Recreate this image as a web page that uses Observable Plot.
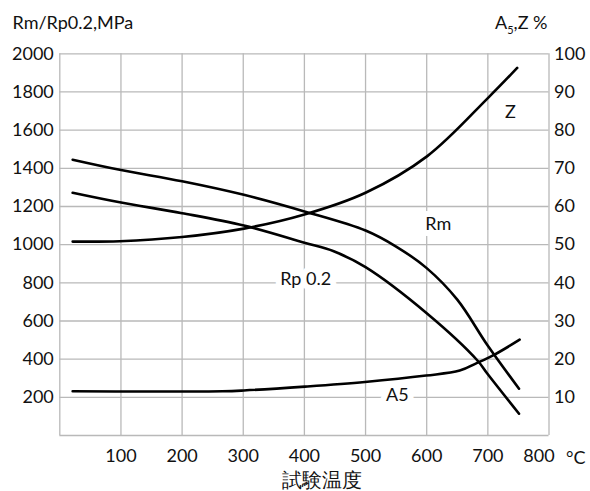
<!DOCTYPE html>
<html>
<head>
<meta charset="utf-8">
<script src="https://cdn.jsdelivr.net/npm/d3@7"></script>
<script src="https://cdn.jsdelivr.net/npm/@observablehq/plot@0.6"></script>
<style>
  html, body { margin: 0; padding: 0; background: #fff; }
  svg text { font-family: Lato, "Open Sans", sans-serif; }
</style>
</head>
<body>
<div id="chart"></div>
<script>
// Temperatures (°C) and values
const rmTemp  = [21, 98, 200, 301, 400, 500, 550, 600, 650, 700, 751];
const rmMPa   = [1445, 1392, 1332, 1261, 1174, 1074, 990, 877, 712, 470, 245];

const rpTemp  = [21, 98, 200, 301, 400, 448, 500, 601, 683, 699, 751];
const rpMPa   = [1272, 1222, 1165, 1100, 1010, 965, 882, 638, 393, 325, 114];

const zTemp   = [21, 98, 200, 301, 400, 500, 601, 700, 748];
const zPct    = [50.8, 50.9, 52.0, 54.2, 57.9, 63.6, 73.2, 88.4, 96.3];

const a5Temp  = [21, 266, 301, 401, 499, 599, 654, 681, 711, 752];
const a5Pct   = [11.6, 11.6, 11.8, 12.8, 14.0, 15.7, 17.0, 18.9, 21.2, 25.1];

const xTicks      = [100, 200, 300, 400, 500, 600, 700];
const xLastTick   = [800];
const leftTicks   = [200, 400, 600, 800, 1000, 1200, 1400, 1600, 1800, 2000];
const rightTicks  = [10, 20, 30, 40, 50, 60, 70, 80, 90, 100];

const curveLabels = ["Z", "Rm", "Rp 0.2", "A5"];
const labelTemp   = [737, 619, 402, 552];
const labelMPa    = [1692, 1106, 820, 212];

// percent axis maps 0..100 % onto 0..2000 MPa
const pctToMPa = p => p * 20;

const lines = [
  ...rmTemp.map((t, i) => ({s: "Rm", t, v: rmMPa[i]})),
  ...rpTemp.map((t, i) => ({s: "Rp", t, v: rpMPa[i]})),
  ...zTemp.map((t, i) => ({s: "Z", t, v: pctToMPa(zPct[i])})),
  ...a5Temp.map((t, i) => ({s: "A5", t, v: pctToMPa(a5Pct[i])}))
];
const labels = curveLabels.map((text, i) => ({text, t: labelTemp[i], v: labelMPa[i]}));

const gridColor = "#b9b9b9";

const plot = Plot.plot({
  width: 590,
  height: 491,
  marginLeft: 59.3,
  marginRight: 41.5,
  marginTop: 53.3,
  marginBottom: 56,
  style: {fontFamily: "Lato, 'Open Sans', sans-serif", fontSize: "18px", color: "#111", background: "#fff"},
  x: {domain: [0, 800]},
  y: {domain: [0, 2000]},
  marks: [
    Plot.gridX(d3.range(0, 801, 100), {stroke: gridColor, strokeOpacity: 1, strokeWidth: 1.3}),
    Plot.gridY(d3.range(0, 2001, 200), {stroke: gridColor, strokeOpacity: 1, strokeWidth: 1.3}),
    Plot.axisX(xTicks, {anchor: "bottom", tickSize: 0, tickPadding: 14, label: null, fontSize: 18,
      tickFormat: d => String(d)}),
    Plot.axisX(xLastTick, {anchor: "bottom", tickSize: 0, tickPadding: 14, label: null, fontSize: 18, dx: -10,
      tickFormat: d => String(d)}),
    Plot.axisY(leftTicks, {anchor: "left", tickSize: 0, tickPadding: 6, label: null, fontSize: 18,
      tickFormat: d => String(d)}),
    Plot.axisY(rightTicks.map(pctToMPa), {anchor: "right", tickSize: 0, tickPadding: 5, label: null, fontSize: 18,
      tickFormat: d => String(d / 20)}),
    Plot.text(labels, {x: "t", y: "v", text: "text", fontSize: 18, fill: "#fff",
      stroke: "#fff", strokeWidth: 12, strokeLinejoin: "round"}),
    Plot.text(labels, {x: "t", y: "v", text: "text", fontSize: 18, fill: "#111"}),
    Plot.line(lines, {x: "t", y: "v", z: "s", stroke: "#000", strokeWidth: 2.6, curve: "catmull-rom"})
  ]
});

document.getElementById("chart").appendChild(plot);

const svg = d3.select(plot);
const font = "Lato, 'Open Sans', sans-serif";
svg.append("text").attr("x", 12.5).attr("y", 28.5).attr("text-anchor", "start")
  .attr("font-size", 18).attr("fill", "#111").attr("font-family", font)
  .text("Rm/Rp0.2,MPa");
const rt = svg.append("text").attr("x", 495).attr("y", 28.5).attr("text-anchor", "start")
  .attr("font-size", 18).attr("fill", "#111").attr("font-family", font);
rt.append("tspan").text("A");
rt.append("tspan").attr("font-size", 11).attr("dy", 5).text("5");
rt.append("tspan").attr("dy", -5).text(",Z %");
svg.append("text").attr("x", 566).attr("y", 463.5).attr("text-anchor", "start")
  .attr("font-size", 18).attr("fill", "#111").attr("font-family", font)
  .text("°C");
svg.append("text").attr("x", 322).attr("y", 487)
  .attr("text-anchor", "middle")
  .attr("font-size", 20).attr("fill", "#111").attr("font-family", "'Noto Sans CJK JP', sans-serif")
  .text("試験温度");
</script>
</body>
</html>
